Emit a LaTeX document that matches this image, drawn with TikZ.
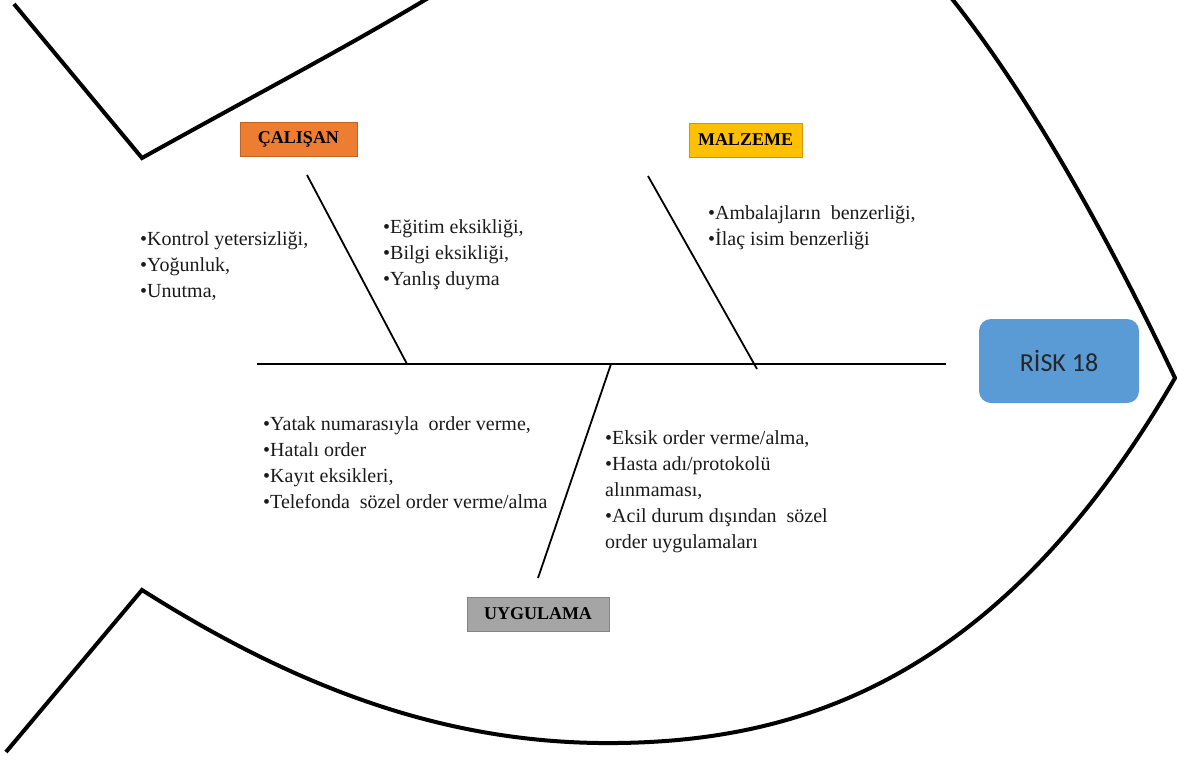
\documentclass[tikz,border=0pt]{standalone}
\usepackage{fontspec}
\setmainfont{Liberation Serif}
\newfontfamily\riskfont{Carlito}
\definecolor{calisancol}{HTML}{ED7D31}
\definecolor{malzemecol}{HTML}{FFC000}
\definecolor{uygulamacol}{HTML}{A5A5A5}
\definecolor{riskcol}{HTML}{5B9BD5}
\definecolor{inkcol}{HTML}{1A1A1A}
\begin{document}
\begin{tikzpicture}[x=1pt,y=-1pt,
  outline/.style={line width=4pt,line join=miter},
  bone/.style={line width=1.8pt},
  catbox/.style={draw=#1!80!black,line width=0.4pt,fill=#1,inner sep=0pt,
    font=\fontsize{18}{20}\selectfont\bfseries,text=black},
  causes/.style={anchor=north west,align=left,inner sep=0pt,text=inkcol,
    font=\fontsize{20}{26}\selectfont},
  riskbox/.style={fill=riskcol,rounded corners=12pt,inner sep=0pt,
    font=\riskfont\fontsize{26}{30}\selectfont,text=black!85}]
\useasboundingbox (0,0) rectangle (1177,761);
\clip (0,0) rectangle (1177,761);

% fish body and tail (the upper arc runs past the top edge)
\coordinate (tailtop) at (142,158);
\coordinate (tailbot) at (142,590);
\coordinate (nose) at (1175,378);
\draw[outline] (14,4) -- (tailtop)
  .. controls (300,70) and (400,20) .. (520,-60)
  -- (900,-60)
  .. controls (1000,40) and (1100,220) .. (nose)
  .. controls (1000,680) and (800,741) .. (617,743)
  .. controls (450,745) and (300,690) .. (tailbot) -- (6,752);

% spine
\coordinate (spineL) at (257,364);
\coordinate (spineR) at (946,364);
\draw[bone] (spineL) -- (spineR);

% category labels
\node[catbox=calisancol,minimum width=117pt,minimum height=34pt] (calisan) at (298.5,139) {ÇALIŞAN};
\node[catbox=malzemecol,minimum width=113pt,minimum height=34pt] (malzeme) at (745.5,140) {MALZEME};
\node[catbox=uygulamacol,minimum width=142pt,minimum height=34pt] (uygulama) at (538,614) {UYGULAMA};

% head
\node[riskbox,minimum width=160pt,minimum height=84pt] (risk) at (1059,361) {RİSK 18};

% bones
\coordinate (b1top) at (307,175);
\coordinate (b1end) at (407,364);
\coordinate (b2top) at (648,176);
\coordinate (b2end) at (757,369);
\coordinate (b3top) at (611,364);
\coordinate (b3end) at (538,578);
\draw[bone] (b1top) -- (b1end);
\draw[bone] (b2top) -- (b2end);
\draw[bone] (b3top) -- (b3end);

% causes
\node[causes] (c1) at (140,231) {•Kontrol yetersizliği,\\•Yoğunluk,\\•Unutma,};
\node[causes] (c2) at (383,219) {•Eğitim eksikliği,\\•Bilgi eksikliği,\\•Yanlış duyma};
\node[causes] (c3) at (708,205) {•Ambalajların\ \ benzerliği,\\•İlaç isim benzerliği};
\node[causes] (c4) at (263,416) {•Yatak numarasıyla\ \ order verme,\\•Hatalı order\\•Kayıt eksikleri,\\•Telefonda\ \ sözel order verme/alma};
\node[causes] (c5) at (605,430) {•Eksik order verme/alma,\\•Hasta adı/protokolü\\alınmaması,\\•Acil durum dışından\ \ sözel\\order uygulamaları};
\end{tikzpicture}
\end{document}
